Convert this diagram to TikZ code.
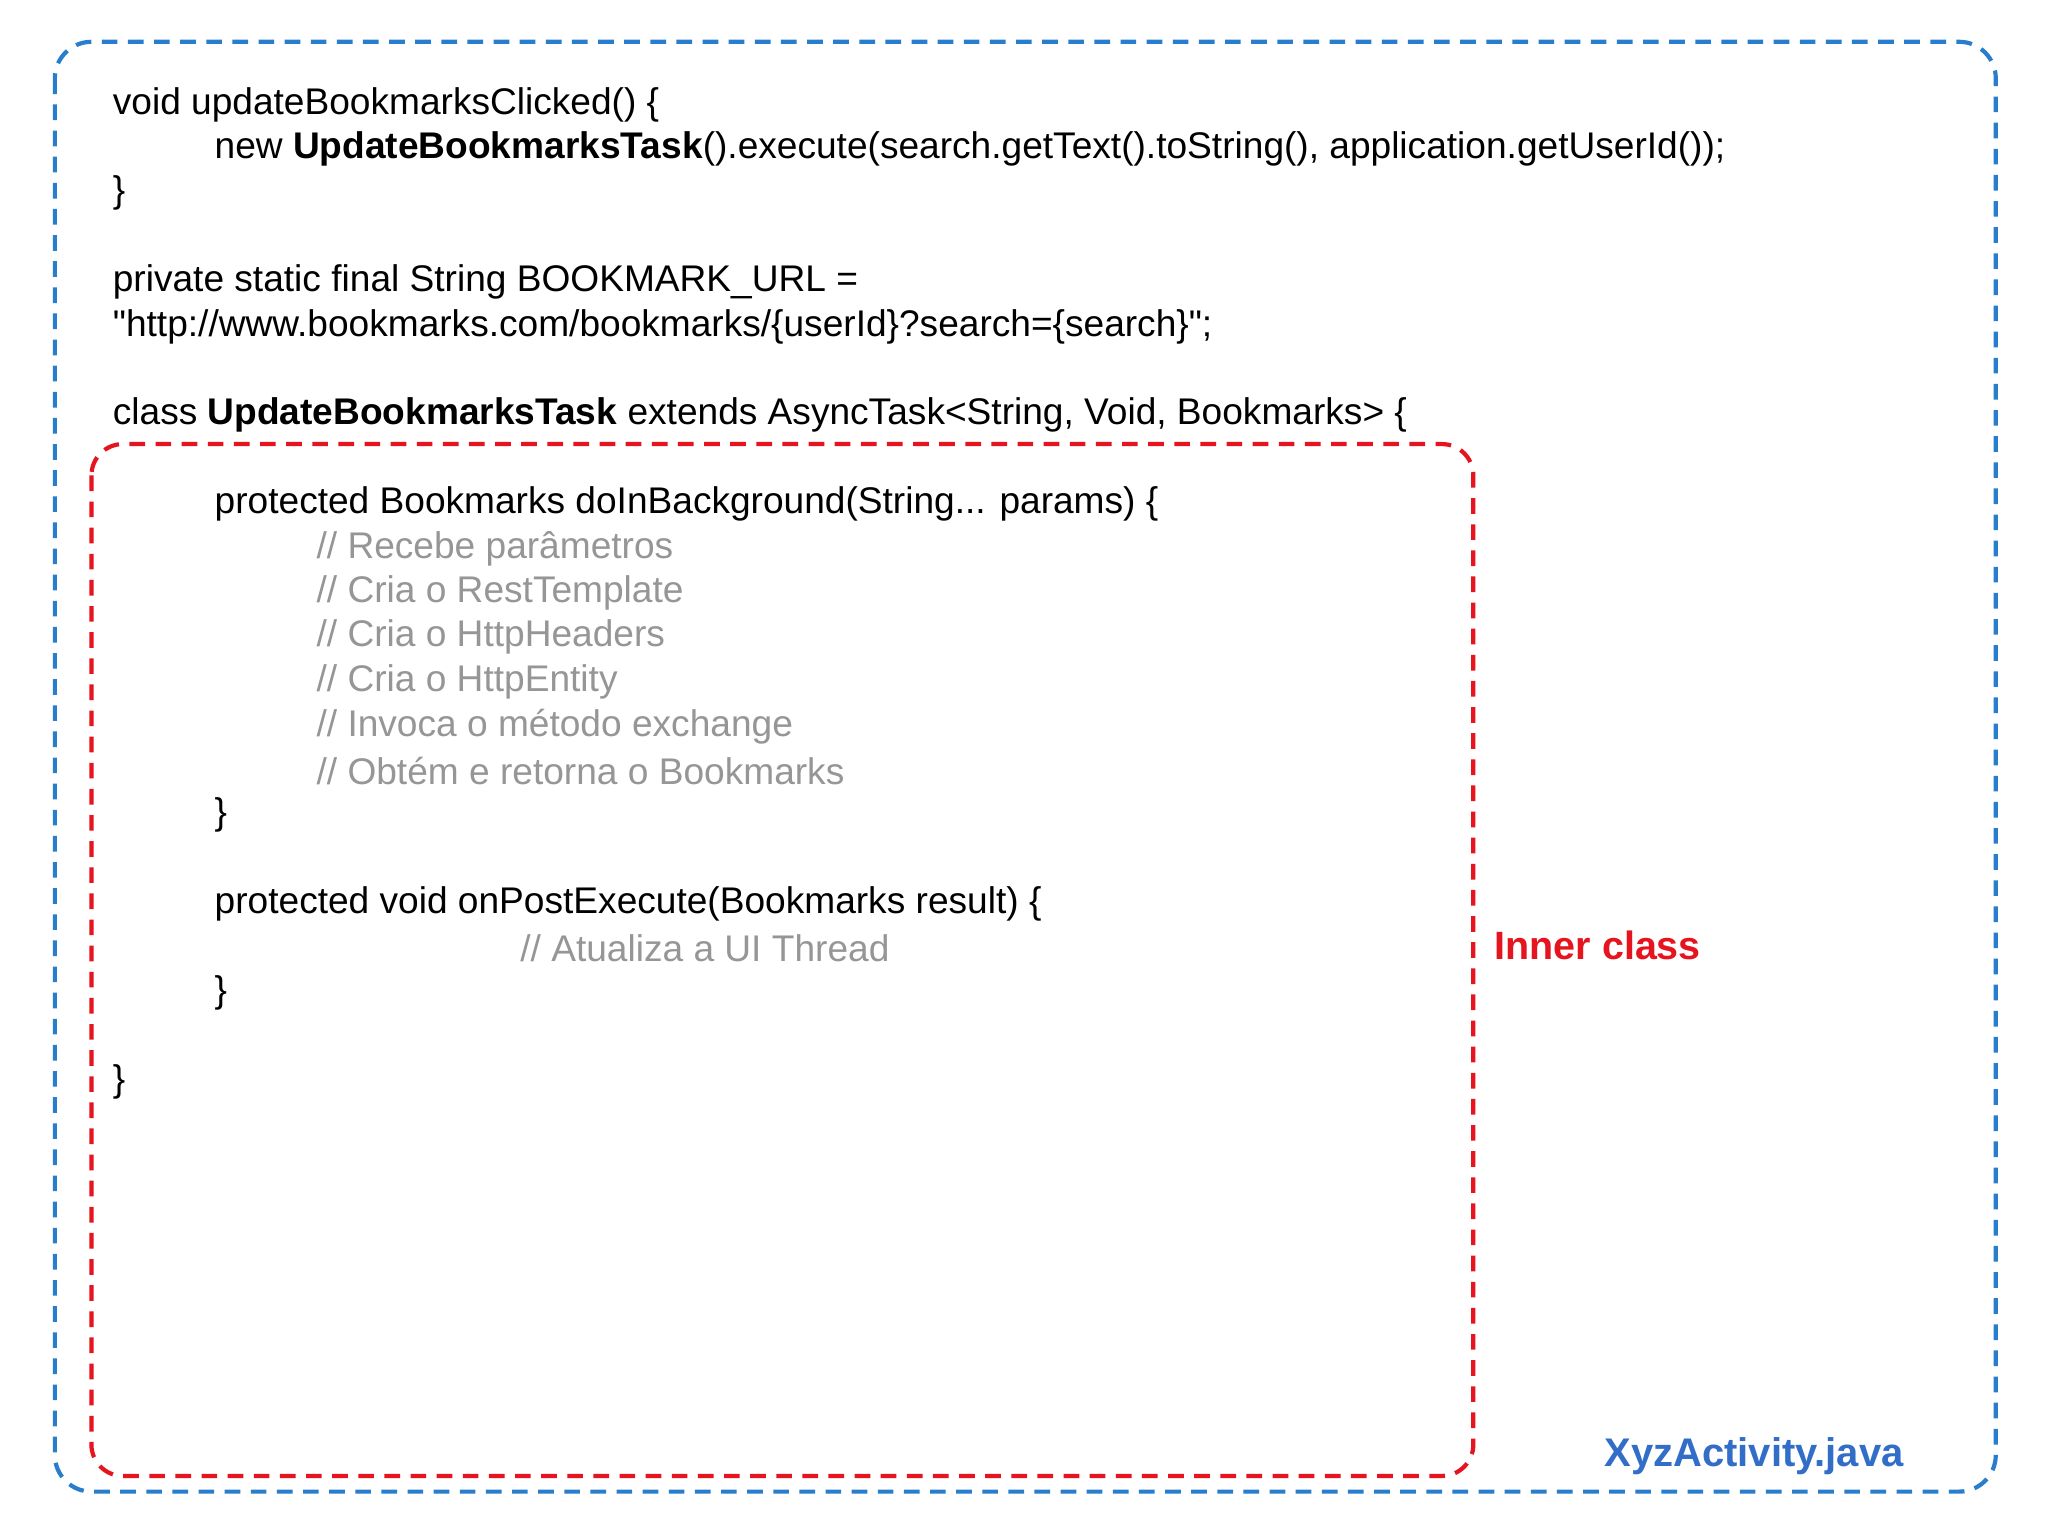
\documentclass[tikz,border=0pt]{standalone}
\usepackage{fontspec}
\setmainfont{Liberation Sans}
\definecolor{bluebox}{RGB}{40,125,205}
\definecolor{redbox}{RGB}{230,20,30}
\definecolor{cmt}{RGB}{150,150,150}
\definecolor{fileblue}{RGB}{50,110,200}
\tikzset{code/.style={anchor=west,inner sep=0pt,font=\fontsize{14.2}{16}\selectfont},
 cmtext/.style={code,text=cmt}}
\begin{document}
\begin{tikzpicture}[x=0.5pt,y=-0.5pt]
\useasboundingbox (0,0) rectangle (1568,1176);
\fill[white] (0,0) rectangle (1568,1176);
\draw[bluebox,line width=1.6pt,dash pattern=on 6pt off 4pt,rounded corners=14pt] (42,32) rectangle (1528,1142);
\draw[redbox,line width=1.6pt,dash pattern=on 6pt off 4pt,rounded corners=12pt] (70,340) rectangle (1128,1130);
\node[code] (l1) at (86,80) {void updateBookmarksClicked() \{};
\node[code] (l2) at (164,114) {new \textbf{UpdateBookmarksTask}().execute(search.getText().toString(), application.getUserId());};
\node[code] (l3) at (86,148) {\}};
\node[code] (l4) at (86,216) {private static final String BOOKMARK\_URL =};
\node[code] (l5) at (86,250) {\textquotedbl http://www.bookmarks.com/bookmarks/\{userId\}?search=\{search\}\textquotedbl;};
\node[code] (l6) at (86,318) {class \textbf{UpdateBookmarksTask} extends AsyncTask<String, Void, Bookmarks> \{};
\node[code] (l7) at (164,386) {protected Bookmarks doInBackground(String... params) \{};
\node[cmtext] (c1) at (242,420) {// Recebe parâmetros};
\node[cmtext] (c2) at (242,454) {// Cria o RestTemplate};
\node[cmtext] (c3) at (242,488) {// Cria o HttpHeaders};
\node[cmtext] (c4) at (242,522) {// Cria o HttpEntity};
\node[cmtext] (c5) at (242,556) {// Invoca o método exchange};
\node[cmtext] (c6) at (242,590) {// Obtém e retorna o Bookmarks};
\node[code] (l8) at (164,624) {\}};
\node[code] (l9) at (164,692) {protected void onPostExecute(Bookmarks result) \{};
\node[cmtext] (c7) at (398,726) {// Atualiza a UI Thread};
\node[code] (l10) at (164,760) {\}};
\node[code] (l11) at (86,828) {\}};
\node[code,text=redbox,font=\fontsize{15.1}{17}\selectfont\bfseries] (inner) at (1144,724) {Inner class};
\node[code,text=fileblue,font=\fontsize{15.3}{17}\selectfont\bfseries] (file) at (1228,1115) {XyzActivity.java};
\end{tikzpicture}
\end{document}
